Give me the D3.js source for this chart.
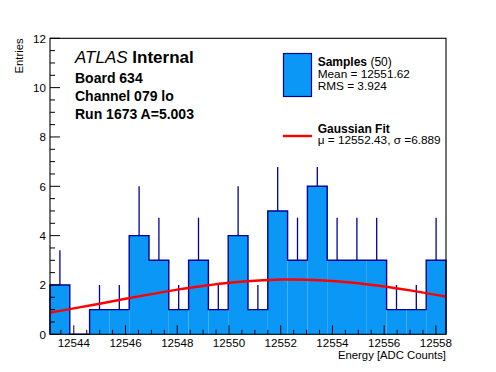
<!DOCTYPE html>
<html><head><meta charset="utf-8">
<script src="https://cdn.jsdelivr.net/npm/d3@7"></script>
<style>
html,body{margin:0;padding:0;background:#fff;}
svg{display:block;font-family:"Liberation Sans",Arial,Helvetica,sans-serif;}
</style></head>
<body>
<svg id="c" width="496" height="372"></svg>
<script>
// ---- data ----
const xMin = 12543.08, xMax = 12558.39;
const counts = [2,0,1,1,4,3,1,3,1,4,1,5,3,6,3,3,3,1,1,3];
const errTop = [3.41,0,2,2,6,4.73,2,4.73,2,6,2,6.78,4.73,6.78,4.73,4.73,4.73,2,2,4.73];
const fitX = [12543.08,12544,12545,12546,12547,12548,12549,12550,12551,12552,12553,12554,12555,12556,12557,12558,12558.39];
const fitY = [0.88,1.05,1.24,1.44,1.63,1.81,1.96,2.09,2.17,2.22,2.21,2.16,2.07,1.94,1.78,1.60,1.53];
const xTicks = [12544,12546,12548,12550,12552,12554,12556,12558];
const yTicks = [0,2,4,6,8,10,12];
const labelLines = ["Board 634","Channel 079 lo","Run 1673 A=5.003"];
const legendTexts = {samples:"Samples", n:"(50)", mean:"Mean = 12551.62", rms:"RMS = 3.924", fit:"Gaussian Fit", fitPars:"\u03bc = 12552.43, \u03c3 =6.889"};

// ---- layout ----
const L = 50, R = 446, T = 38.3, B = 334.3;
const fill = "#0a97f5", navy = "#00009a";
const svg = d3.select("#c");
const x = d3.scaleLinear().domain([xMin, xMax]).range([L, R]);
const y = d3.scaleLinear().domain([0, 12]).range([B, T]);
const nb = counts.length, bw = (xMax - xMin) / nb;
const bins = counts.map((c, i) => ({lo: xMin + i*bw, hi: xMin + (i+1)*bw, c, e: errTop[i]}));

// filled bars
svg.append("g").selectAll("rect").data(bins.filter(b => b.c > 0)).join("rect")
  .attr("x", b => x(b.lo)).attr("width", b => x(b.hi) - x(b.lo))
  .attr("y", b => y(b.c)).attr("height", b => y(0) - y(b.c))
  .attr("fill", fill);

// error bars (upper part)
svg.append("g").selectAll("line").data(bins.filter(b => b.c > 0)).join("line")
  .attr("x1", b => x((b.lo+b.hi)/2)).attr("x2", b => x((b.lo+b.hi)/2))
  .attr("y1", b => y(b.c)).attr("y2", b => y(b.e))
  .attr("stroke", navy).attr("stroke-width", 1.3);

// outline step path
const pts = [[x(xMin), y(0)]];
bins.forEach(b => { pts.push([x(b.lo), y(b.c)]); pts.push([x(b.hi), y(b.c)]); });
pts.push([x(xMax), y(0)]);
svg.append("path").attr("d", d3.line()(pts)).attr("fill", "none")
  .attr("stroke", navy).attr("stroke-width", 1.4);

// fit curve
svg.append("path")
  .attr("d", d3.line().x((d,i) => x(fitX[i])).y(d => y(d)).curve(d3.curveCatmullRom)(fitY))
  .attr("fill", "none").attr("stroke", "#ff0000").attr("stroke-width", 2.4);

// frame
svg.append("rect").attr("x", L).attr("y", T).attr("width", R-L).attr("height", B-T)
  .attr("fill", "none").attr("stroke", "#000").attr("stroke-width", 1.1);

// x ticks
const xg = svg.append("g");
const xMinor = d3.range(Math.ceil(xMin*2)/2, xMax, 0.5);
xg.selectAll("line").data(xMinor).join("line")
  .attr("x1", d => x(d)).attr("x2", d => x(d))
  .attr("y1", B).attr("y2", d => B - (xTicks.includes(d) ? 9 : 4.5))
  .attr("stroke", "#000").attr("stroke-width", 1);
xg.selectAll("text").data(xTicks).join("text")
  .attr("x", d => x(d)).attr("y", B + 13).attr("text-anchor", "middle")
  .attr("font-size", 11.6).text(d => d);

// y ticks
const yg = svg.append("g");
const yMinor = d3.range(0, 12.01, 0.5);
yg.selectAll("line").data(yMinor).join("line")
  .attr("x1", L).attr("x2", d => L + (d % 2 === 0 ? 10 : 5))
  .attr("y1", d => y(d)).attr("y2", d => y(d))
  .attr("stroke", "#000").attr("stroke-width", 1);
yg.selectAll("text").data(yTicks).join("text")
  .attr("x", L - 4).attr("y", d => y(d) + 4.2).attr("text-anchor", "end")
  .attr("font-size", 11.6).text(d => d);

// axis titles
svg.append("text").attr("x", R).attr("y", B + 24.5).attr("text-anchor", "end")
  .attr("font-size", 11.3).text("Energy [ADC Counts]");
svg.append("text").attr("transform", `translate(23,${T}) rotate(-90)`).attr("text-anchor", "end")
  .attr("font-size", 11.3).text("Entries");

// ATLAS label
const at = svg.append("text").attr("x", 75).attr("y", 62.7).attr("font-size", 17);
at.append("tspan").attr("font-style", "italic").text("ATLAS");
at.append("tspan").attr("font-weight", "bold").text(" Internal");
svg.append("g").selectAll("text").data(labelLines).join("text")
  .attr("x", 75).attr("y", (d,i) => 82.7 + i*18)
  .attr("font-size", 14).attr("font-weight", "bold").text(d => d);

// legend
svg.append("rect").attr("x", 283.5).attr("y", 53.5).attr("width", 28).attr("height", 43)
  .attr("fill", fill).attr("stroke", navy).attr("stroke-width", 1.2);
const s1 = svg.append("text").attr("x", 317.7).attr("y", 66).attr("font-size", 12);
s1.append("tspan").attr("font-weight", "bold").text(legendTexts.samples);
s1.append("tspan").text(" " + legendTexts.n);
svg.append("text").attr("x", 317.7).attr("y", 78).attr("font-size", 11.8).text(legendTexts.mean);
svg.append("text").attr("x", 317.7).attr("y", 89.5).attr("font-size", 11.8).text(legendTexts.rms);
svg.append("line").attr("x1", 283).attr("x2", 312).attr("y1", 136).attr("y2", 136)
  .attr("stroke", "#ff0000").attr("stroke-width", 2.4);
svg.append("text").attr("x", 317.7).attr("y", 132.7).attr("font-size", 12).attr("font-weight", "bold").text(legendTexts.fit);
svg.append("text").attr("x", 317.7).attr("y", 144.3).attr("font-size", 11.8).text(legendTexts.fitPars);
</script>
</body></html>
